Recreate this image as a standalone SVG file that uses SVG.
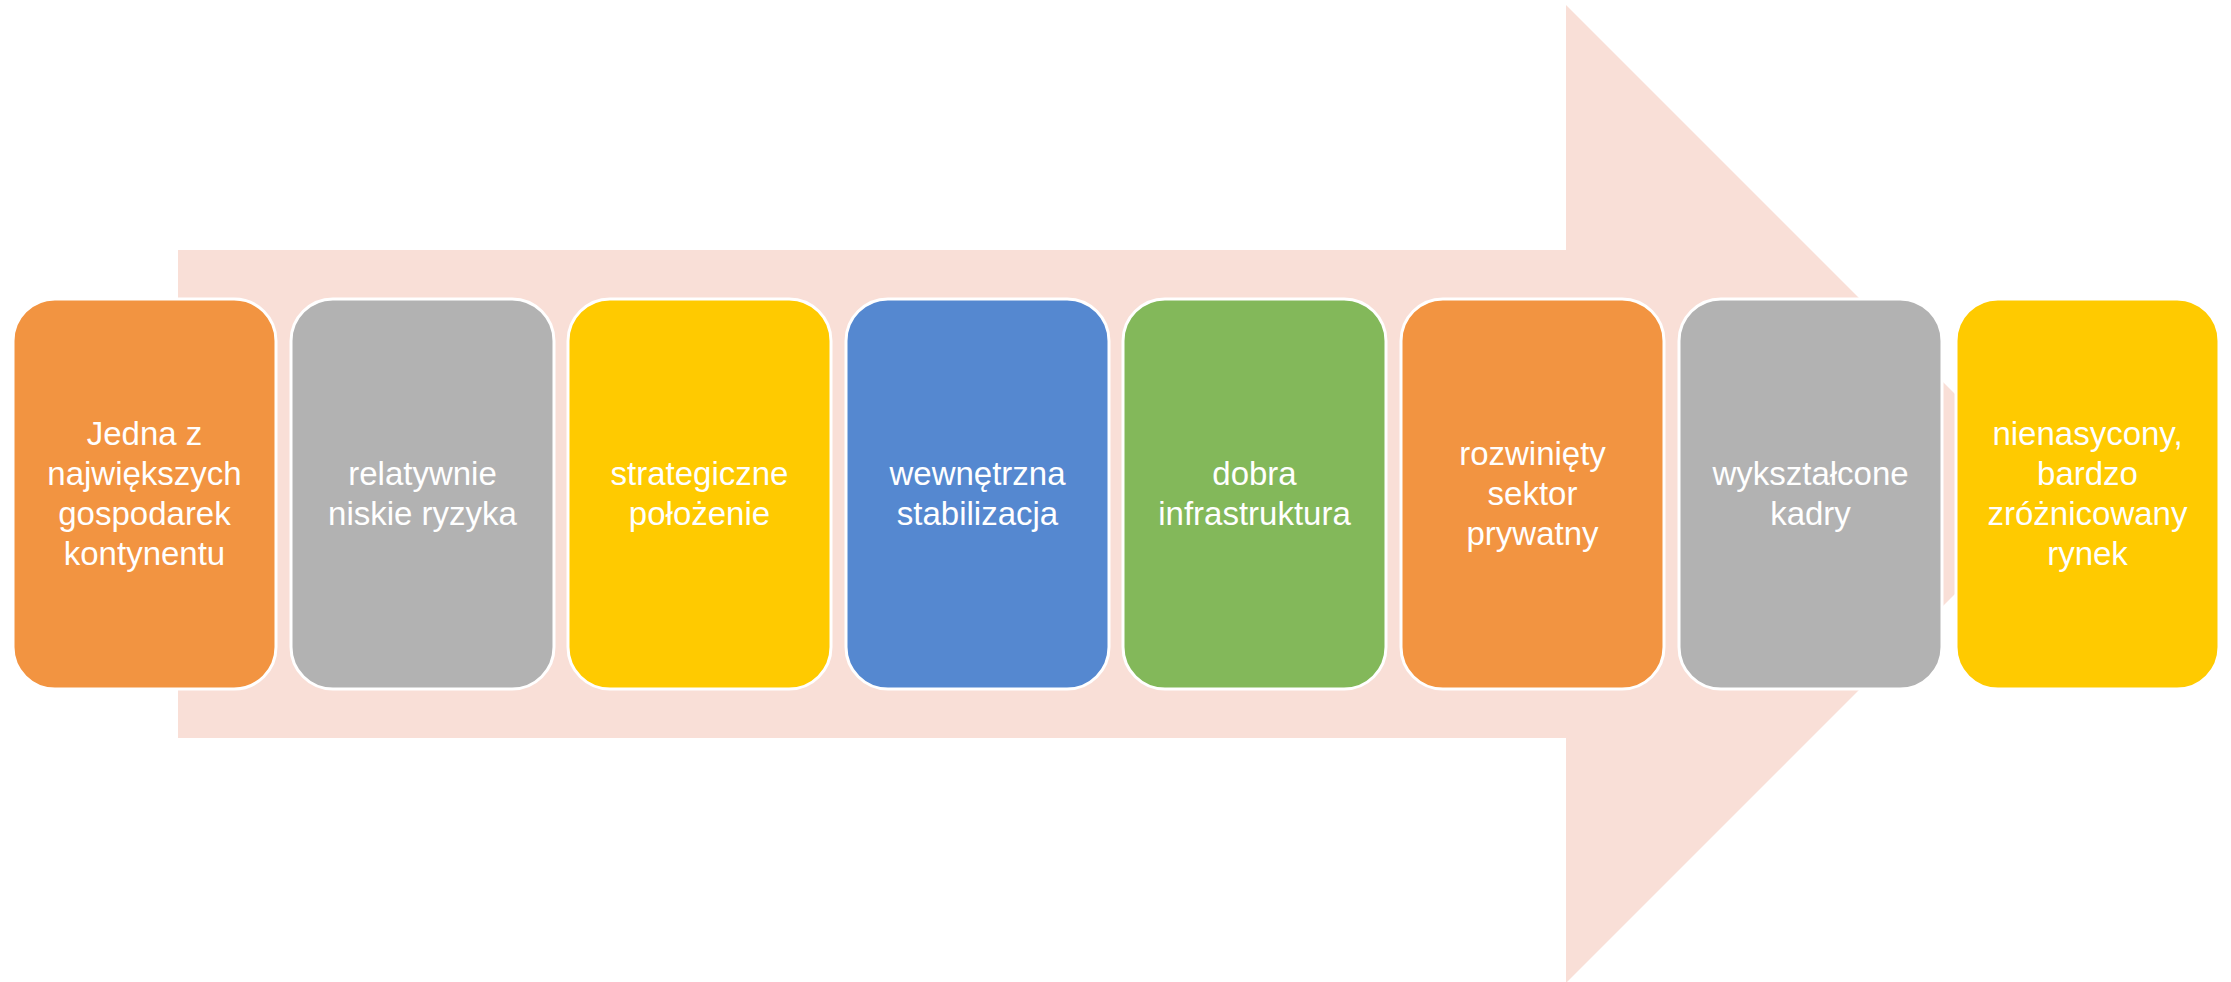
<svg xmlns="http://www.w3.org/2000/svg" width="2231" height="982" viewBox="0 0 2231 982">
<style>
.box{stroke:#ffffff;stroke-width:3}
.t{font-family:"Liberation Sans",Arial,sans-serif;font-size:33px;fill:#ffffff;text-anchor:middle}
.o{fill:#F29441}.g{fill:#B2B2B2}.y{fill:#FFCA00}.b{fill:#5588D0}.gr{fill:#83B85A}
</style>
<rect width="2231" height="982" fill="#ffffff"/>
<g id="arrow">
<polygon points="178,250 1566,250 1566,5 2055,494 1566,983 1566,738 178,738" fill="#F9DFD7"/>
</g>
<g id="connectors"></g>
<g id="n1"><rect class="box o" x="13" y="299" width="263" height="390" rx="42"/>
<text class="t" x="144.5" y="445">Jedna z</text><text class="t" x="144.5" y="485">największych</text><text class="t" x="144.5" y="525">gospodarek</text><text class="t" x="144.5" y="565">kontynentu</text></g>
<g id="n2"><rect class="box g" x="291" y="299" width="263" height="390" rx="42"/>
<text class="t" x="422.5" y="485">relatywnie</text><text class="t" x="422.5" y="525">niskie ryzyka</text></g>
<g id="n3"><rect class="box y" x="568" y="299" width="263" height="390" rx="42"/>
<text class="t" x="699.5" y="485">strategiczne</text><text class="t" x="699.5" y="525">położenie</text></g>
<g id="n4"><rect class="box b" x="846" y="299" width="263" height="390" rx="42"/>
<text class="t" x="977.5" y="485">wewnętrzna</text><text class="t" x="977.5" y="525">stabilizacja</text></g>
<g id="n5"><rect class="box gr" x="1123" y="299" width="263" height="390" rx="42"/>
<text class="t" x="1254.5" y="485">dobra</text><text class="t" x="1254.5" y="525">infrastruktura</text></g>
<g id="n6"><rect class="box o" x="1401" y="299" width="263" height="390" rx="42"/>
<text class="t" x="1532.5" y="465">rozwinięty</text><text class="t" x="1532.5" y="505">sektor</text><text class="t" x="1532.5" y="545">prywatny</text></g>
<g id="n7"><rect class="box g" x="1679" y="299" width="263" height="390" rx="42"/>
<text class="t" x="1810.5" y="485">wykształcone</text><text class="t" x="1810.5" y="525">kadry</text></g>
<g id="n8"><rect class="box y" x="1956" y="299" width="263" height="390" rx="42"/>
<text class="t" x="2087.5" y="445">nienasycony,</text><text class="t" x="2087.5" y="485">bardzo</text><text class="t" x="2087.5" y="525">zróżnicowany</text><text class="t" x="2087.5" y="565">rynek</text></g>
</svg>
